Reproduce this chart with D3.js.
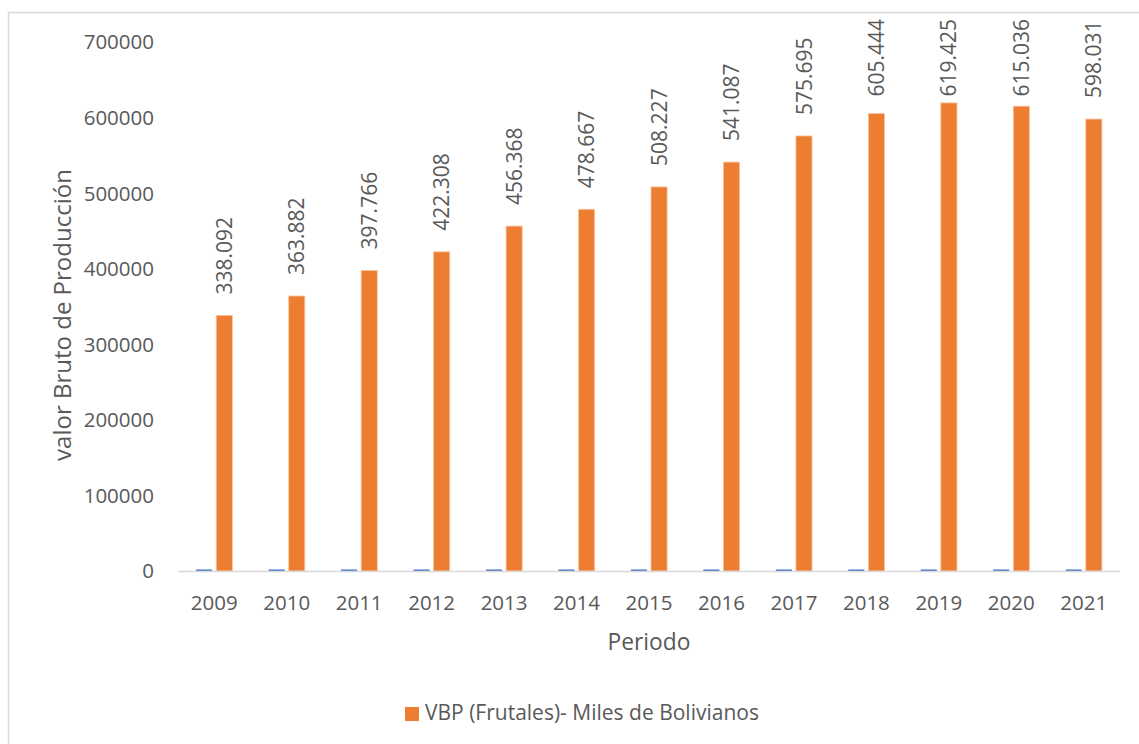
<!DOCTYPE html>
<html>
<head>
<meta charset="utf-8">
<script src="https://cdn.jsdelivr.net/npm/d3@7"></script>
<style>
  body { margin: 0; background: #fff; }
  text { font-family: "Open Sans", "Noto Sans", sans-serif; fill: #595959; }
</style>
</head>
<body>
<svg id="chart" width="1139" height="744"></svg>
<script>
// Data
const years = ["2009", "2010", "2011", "2012", "2013", "2014", "2015", "2016", "2017", "2018", "2019", "2020", "2021"];
const periodo = [2009, 2010, 2011, 2012, 2013, 2014, 2015, 2016, 2017, 2018, 2019, 2020, 2021];
const vbp = [338092, 363882, 397766, 422308, 456368, 478667, 508227, 541087, 575695, 605444, 619425, 615036, 598031];
const yTicks = [0, 100000, 200000, 300000, 400000, 500000, 600000, 700000];

const width = 1139;
const height = 744;
const margin = { top: 42, right: 19, bottom: 173, left: 178 };

const svg = d3.select("#chart");

// outer chart border (only top and left edges show in the frame)
svg.append("rect")
  .attr("x", 8.5)
  .attr("y", 12.5)
  .attr("width", 1160)
  .attr("height", 760)
  .attr("fill", "none")
  .attr("stroke", "#d9d9d9")
  .attr("stroke-width", 1.5);

const x = d3.scaleBand()
  .domain(years)
  .range([margin.left, width - margin.right])
  .paddingInner(0.5)
  .paddingOuter(0.25);

const xSub = d3.scaleBand()
  .domain(["periodo", "vbp"])
  .range([0, x.bandwidth()])
  .paddingInner(0.2);

const y = d3.scaleLinear()
  .domain([0, 700000])
  .range([height - margin.bottom, margin.top]);

const fmt = d3.formatLocale({ decimal: ",", thousands: ".", grouping: [3], currency: ["", ""] }).format(",d");

// y axis labels (no axis line, no gridlines)
svg.append("g")
  .selectAll("text")
  .data(yTicks)
  .enter()
  .append("text")
  .attr("x", 154)
  .attr("y", d => y(d))
  .attr("dy", "0.36em")
  .attr("text-anchor", "end")
  .style("font-size", "20.5px")
  .text(d => d);

// blue series (periodo) - tiny bars at the base
svg.append("g")
  .selectAll("rect")
  .data(periodo)
  .enter()
  .append("rect")
  .attr("x", (d, i) => x(years[i]) + xSub("periodo"))
  .attr("y", d => y(d))
  .attr("width", xSub.bandwidth())
  .attr("height", d => y(0) - y(d))
  .attr("fill", "#4472c4");

// orange series
svg.append("g")
  .selectAll("rect")
  .data(vbp)
  .enter()
  .append("rect")
  .attr("x", (d, i) => x(years[i]) + xSub("vbp"))
  .attr("y", d => y(d))
  .attr("width", xSub.bandwidth())
  .attr("height", d => y(0) - y(d))
  .attr("fill", "#ed7d31")
  .attr("stroke", "#f7c4a2")
  .attr("stroke-width", 0.8);

// baseline
svg.append("line")
  .attr("x1", margin.left)
  .attr("x2", width - margin.right)
  .attr("y1", y(0) + 0.5)
  .attr("y2", y(0) + 0.5)
  .attr("stroke", "#d9d9d9")
  .attr("stroke-width", 1.5);

// value labels, rotated; pushed down when they would leave the chart top
const labels = svg.append("g")
  .selectAll("text")
  .data(vbp)
  .enter()
  .append("text")
  .attr("dy", "0.36em")
  .attr("text-anchor", "start")
  .style("font-size", "21px")
  .text(d => fmt(d));

labels.attr("transform", function(d, i) {
  const cx = x(years[i]) + xSub("vbp") + xSub.bandwidth() / 2;
  const len = this.getComputedTextLength();
  const bottom = Math.max(y(d) - 21, 19 + len);
  return `translate(${cx},${bottom}) rotate(-90)`;
});

// x axis labels
svg.append("g")
  .selectAll("text")
  .data(years)
  .enter()
  .append("text")
  .attr("x", d => x(d) + x.bandwidth() / 2)
  .attr("y", 610)
  .attr("text-anchor", "middle")
  .style("font-size", "20.5px")
  .text(d => d);

// axis titles
svg.append("text")
  .attr("x", 649)
  .attr("y", 650)
  .attr("text-anchor", "middle")
  .style("font-size", "22.8px")
  .text("Periodo");

svg.append("text")
  .attr("transform", "translate(62,315) rotate(-90)")
  .attr("dy", "0.36em")
  .attr("text-anchor", "middle")
  .style("font-size", "24px")
  .text("valor Bruto de Producción");

// legend
const legend = svg.append("g").attr("transform", "translate(405,707)");
legend.append("rect")
  .attr("width", 14)
  .attr("height", 14)
  .attr("fill", "#ed7d31");
legend.append("text")
  .attr("x", 20)
  .attr("y", 13)
  .style("font-size", "21px")
  .text("VBP (Frutales)- Miles de Bolivianos");
</script>
</body>
</html>
